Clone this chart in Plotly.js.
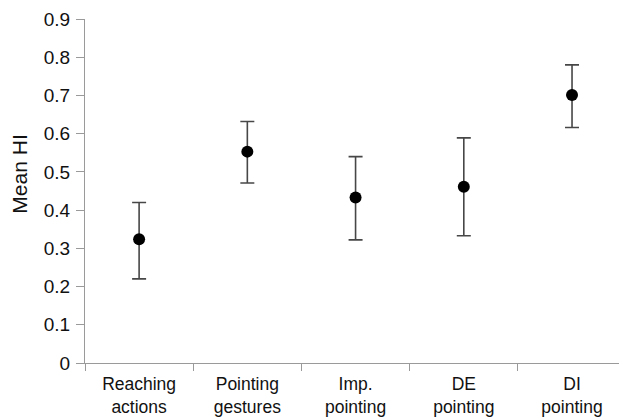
<!DOCTYPE html>
<html>
<head>
<meta charset="utf-8">
<script src="https://cdn.plot.ly/plotly-3.0.1.min.js"></script>
<style>
html,body{margin:0;padding:0;background:#fff;}
#chart{width:619px;height:419px;}
</style>
</head>
<body>
<div id="chart"></div>
<script>
var categories = ["Reaching<br>actions", "Pointing<br>gestures", "Imp.<br>pointing", "DE<br>pointing", "DI<br>pointing"];
var meanHI = [0.324, 0.553, 0.433, 0.461, 0.701];
var upperHI = [0.420, 0.632, 0.540, 0.589, 0.780];
var lowerHI = [0.220, 0.471, 0.322, 0.333, 0.616];
var yTickVals = [0, 0.1, 0.2, 0.3, 0.4, 0.5, 0.6, 0.7, 0.8, 0.9];
var yTickText = ["0", "0.1", "0.2", "0.3", "0.4", "0.5", "0.6", "0.7", "0.8", "0.9"];

var errPlus = upperHI.map(function(u, i){ return u - meanHI[i]; });
var errMinus = lowerHI.map(function(l, i){ return meanHI[i] - l; });

var trace = {
  type: 'scatter',
  mode: 'markers',
  x: categories,
  y: meanHI,
  marker: {color: '#000000', size: 12},
  error_y: {
    type: 'data', symmetric: false,
    array: errPlus, arrayminus: errMinus,
    color: '#474747', thickness: 1.6, width: 7
  },
  hoverinfo: 'none'
};

var layout = {
  width: 619, height: 419,
  margin: {l: 85, r: 0, t: 19, b: 56, pad: 0},
  paper_bgcolor: '#ffffff',
  plot_bgcolor: '#ffffff',
  showlegend: false,
  font: {family: '"Liberation Sans", Arial, sans-serif', size: 17.5, color: '#111111'},
  xaxis: {
    type: 'category',
    range: [-0.5, 4.434],
    showgrid: false, zeroline: false,
    showline: true, linecolor: '#9a9a9a', linewidth: 1,
    ticks: 'outside', ticklen: 7, tickcolor: '#9a9a9a', tickwidth: 1,
    tickson: 'boundaries',
    tickfont: {size: 17.5, color: '#111111'},
    ticklabelstandoff: 5,
    fixedrange: true
  },
  yaxis: {
    range: [0, 0.9],
    tickvals: yTickVals, ticktext: yTickText,
    showgrid: false, zeroline: false,
    showline: true, linecolor: '#9a9a9a', linewidth: 1,
    ticks: 'outside', ticklen: 8, tickcolor: '#9a9a9a', tickwidth: 1,
    tickfont: {size: 19, color: '#111111'},
    ticklabelstandoff: 2,
    fixedrange: true
  },
  annotations: [{
    text: 'Mean HI', xref: 'paper', yref: 'paper',
    x: -0.122, y: 0.55, xanchor: 'center', yanchor: 'middle',
    showarrow: false, textangle: -90,
    font: {size: 21, color: '#111111'}
  }]
};

Plotly.newPlot('chart', [trace], layout, {displayModeBar: false, staticPlot: true});
</script>
</body>
</html>
